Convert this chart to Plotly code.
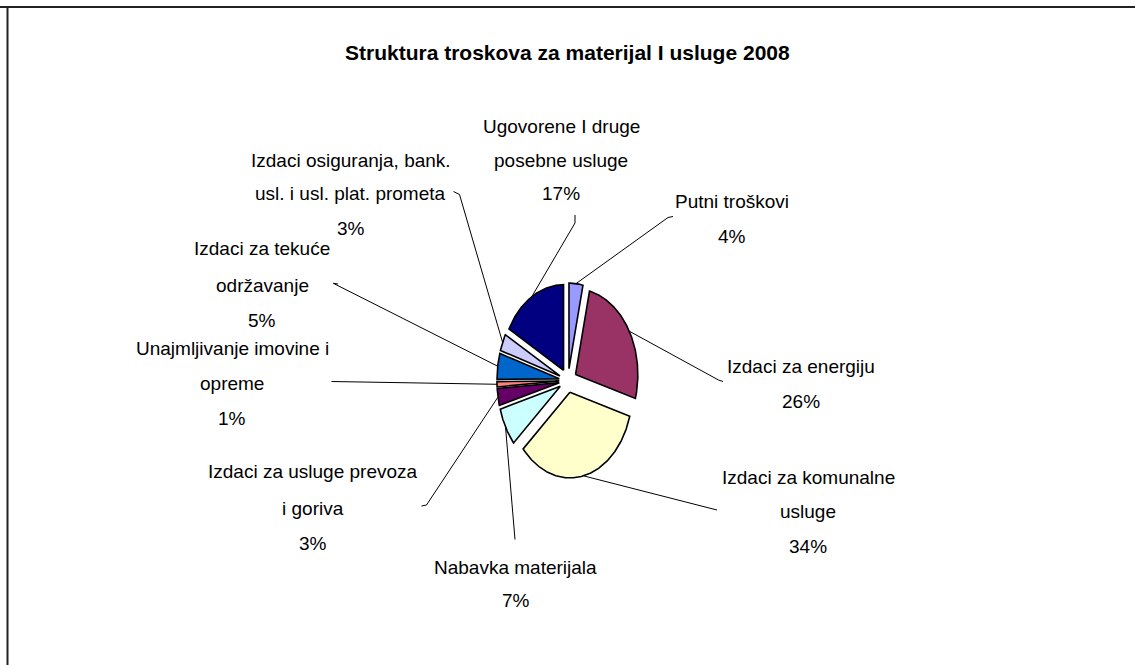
import numpy as np
import plotly.graph_objects as go

# ---------------- data ----------------
categories = [
    "Putni troškovi",
    "Izdaci za energiju",
    "Izdaci za komunalne usluge",
    "Nabavka materijala",
    "Izdaci za usluge prevoza i goriva",
    "Unajmljivanje imovine i opreme",
    "Izdaci za tekuće održavanje",
    "Izdaci osiguranja, bank. usl. i usl. plat. prometa",
    "Ugovorene I druge posebne usluge",
]
values = [3.6, 25.9, 34.0, 7.2, 3.2, 1.0, 4.9, 3.2, 17.0]
label_lines = [
    ["Putni troškovi"],
    ["Izdaci za energiju"],
    ["Izdaci za komunalne", "usluge"],
    ["Nabavka materijala"],
    ["Izdaci za usluge prevoza", "i goriva"],
    ["Unajmljivanje imovine i", "opreme"],
    ["Izdaci za tekuće", "održavanje"],
    ["Izdaci osiguranja, bank.", "usl. i usl. plat. prometa"],
    ["Ugovorene I druge", "posebne usluge"],
]
title = "Struktura troskova za materijal I usluge 2008"

# ---------------- style / layout ----------------
colors = ["#9999FF", "#993366", "#FFFFCC", "#CCFFFF", "#660066",
          "#FF8080", "#0066CC", "#CCCCFF", "#000080"]
W, H = 1135, 665
CX, CY = 568.0, 380.6      # pie centre (px)
R = 85.6                   # vertical radius (px)
SX = 0.728                 # horizontal squash of the pie
EXPLODE = 12.0

# label text placement: centre x, y of each line
label_pos = [
    (731.7, [201.7, 236.7]),
    (801.0, [366.7, 401.7]),
    (808.0, [477.5, 511.5, 546.0]),
    (515.5, [567.0, 600.0]),
    (312.5, [471.7, 508.3, 543.3]),
    (232.0, [348.3, 383.3, 418.3]),
    (262.0, [248.3, 285.0, 320.0]),
    (350.5, [160.0, 193.0, 228.0]),
    (561.0, [126.0, 160.0, 193.0]),
]
# label-side end of leader lines
leader_anchor = [
    [(673.0, 216.5), (668.0, 217.5)],
    [(723.0, 381.5), (718.5, 380.0)],
    [(717.0, 510.0)],
    [(515.0, 539.5)],
    [(421.5, 506.0), (426.5, 505.0)],
    [(331.5, 381.5)],
    [(338.0, 284.0), (333.3, 283.3)],
    [(453.5, 191.5), (459.5, 194.5)],
    [(575.0, 215.0), (575.0, 223.0)],
]
FONT = "Liberation Sans, Arial, sans-serif"

total = float(sum(values))
fig = go.Figure()

cum = 0.0
for i, (cat, v) in enumerate(zip(categories, values)):
    a0 = cum / total * 2 * np.pi
    a1 = (cum + v) / total * 2 * np.pi
    cum += v
    mid = (a0 + a1) / 2
    ox = EXPLODE * np.sin(mid)
    oy = EXPLODE * np.cos(mid)
    th = np.linspace(a0, a1, max(8, int(v * 6)))
    xs = [CX + SX * ox] + list(CX + SX * (ox + R * np.sin(th))) + [CX + SX * ox]
    ys = [CY - oy] + list(CY - (oy + R * np.cos(th))) + [CY - oy]
    pct = f"{round(v / total * 100)}%"
    fig.add_trace(go.Scatter(
        x=xs, y=ys, mode="lines", fill="toself",
        fillcolor=colors[i], line=dict(color="black", width=1.6),
        name=cat, hoverinfo="text", text=f"{cat}: {pct}", showlegend=False,
    ))
    # leader line: from label anchor to slice outer edge at mid-angle
    ex = CX + SX * (EXPLODE + R) * np.sin(mid)
    ey = CY - (EXPLODE + R) * np.cos(mid)
    lx = [p[0] for p in leader_anchor[i]] + [ex]
    ly = [p[1] for p in leader_anchor[i]] + [ey]
    fig.add_trace(go.Scatter(x=lx, y=ly, mode="lines",
                             line=dict(color="black", width=1),
                             hoverinfo="skip", showlegend=False))
    # label text
    xc, ypos = label_pos[i]
    lines = label_lines[i] + [pct]
    for txt, yy in zip(lines, ypos):
        fig.add_annotation(x=xc, y=yy, text=txt, showarrow=False,
                           xanchor="center", yanchor="middle",
                           font=dict(family=FONT, size=19, color="black"))

fig.add_annotation(x=567, y=52, text=f"<b>{title}</b>", showarrow=False,
                   xanchor="center", yanchor="middle",
                   font=dict(family=FONT, size=21, color="black"))

# chart frame (top and left edges visible)
fig.add_shape(type="line", x0=0, x1=W, y0=7, y1=7,
              line=dict(color="#222222", width=2))
fig.add_shape(type="line", x0=7.5, x1=7.5, y0=7, y1=H,
              line=dict(color="#222222", width=2))

fig.update_layout(
    width=W, height=H, margin=dict(l=0, r=0, t=0, b=0),
    paper_bgcolor="white", plot_bgcolor="white",
    xaxis=dict(range=[0, W], visible=False, fixedrange=True),
    yaxis=dict(range=[H, 0], visible=False, fixedrange=True),
    showlegend=False,
)
fig.write_html("out.html", config={"displayModeBar": False},
               post_script="document.body.style.margin='0px';")
